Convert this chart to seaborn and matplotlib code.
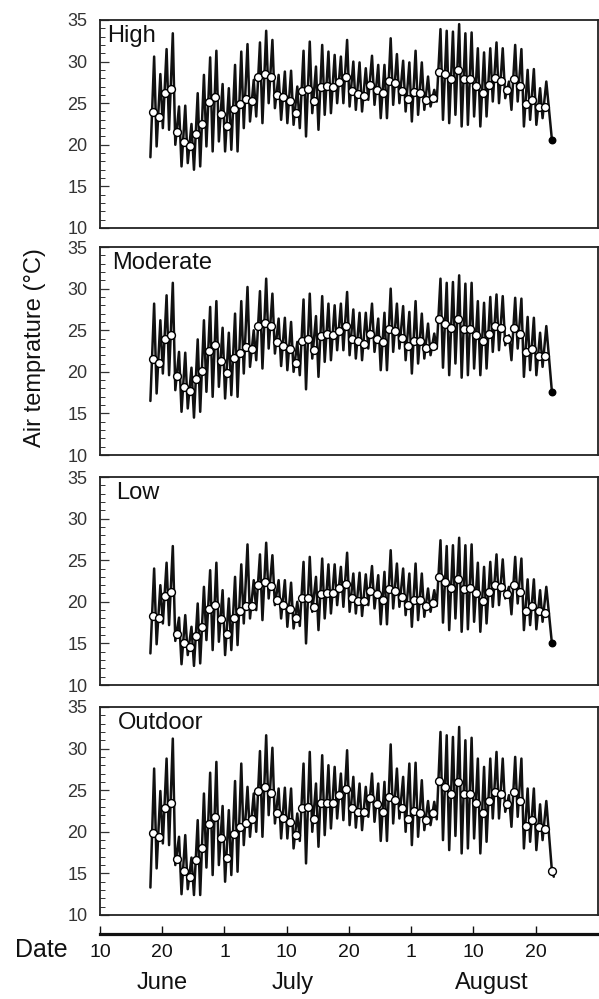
import matplotlib
matplotlib.use("Agg")
import matplotlib.pyplot as plt
import matplotlib.transforms as mtransforms
import numpy as np
import seaborn as sns

# days counted from 10 June; first logged day is 18 June
first_day = 8
end_day = 72.6

high_mean = [23.9, 23.3, 26.2, 26.7, 21.5, 20.3, 19.9, 21.3, 22.5, 25.1,
             25.8, 23.7, 22.2, 24.3, 24.9, 25.5, 25.3, 28.1, 28.5, 28.1,
             26.0, 25.7, 25.3, 23.8, 26.5, 26.7, 25.3, 27.0, 27.1, 26.9,
             27.5, 28.2, 26.5, 26.1, 25.9, 27.2, 26.6, 26.2, 27.7, 27.4,
             26.5, 25.5, 26.3, 26.2, 25.4, 25.6, 28.8, 28.5, 27.9, 29.0,
             27.9, 27.9, 27.1, 26.2, 27.2, 28.0, 27.7, 26.6, 27.9, 27.1,
             24.9, 25.4, 24.5, 24.5]
high_max = [30.6, 28.5, 31.5, 33.4, 24.6, 24.7, 22.5, 26.2, 28.4, 30.5,
            31.3, 27.3, 26.8, 29.6, 31.2, 32.1, 27.8, 32.3, 33.7, 32.6,
            28.4, 28.8, 28.9, 27.0, 31.3, 32.4, 29.4, 32.0, 31.2, 30.8,
            30.6, 32.6, 30.0, 29.9, 29.2, 30.7, 29.6, 29.6, 32.8, 30.9,
            30.1, 29.9, 31.3, 29.9, 28.2, 26.6, 33.9, 33.7, 33.6, 34.5,
            33.4, 33.5, 31.6, 31.1, 31.6, 32.3, 31.6, 27.6, 32.0, 31.5,
            29.0, 29.1, 26.8, 27.6]
high_min = [18.5, 19.8, 22.0, 21.8, 20.0, 17.4, 17.8, 17.0, 17.4, 19.8,
            19.2, 20.4, 19.2, 19.4, 19.2, 22.0, 22.8, 23.4, 22.6, 25.0,
            24.4, 23.0, 22.6, 22.4, 22.0, 21.0, 23.8, 21.8, 23.6, 23.8,
            25.0, 25.0, 24.6, 24.2, 24.0, 25.4, 24.8, 23.2, 23.2, 24.8,
            25.0, 24.0, 22.8, 23.6, 24.2, 24.6, 25.2, 23.0, 22.6, 23.6,
            22.2, 22.4, 23.4, 22.2, 23.4, 25.2, 25.0, 25.6, 24.2, 25.2,
            22.2, 23.0, 22.4, 23.2]
high_end = [20.6]

moderate_mean = [21.5, 21.1, 23.9, 24.4, 19.5, 18.2, 17.7, 19.1, 20.1, 22.5,
                 23.2, 21.3, 19.9, 21.7, 22.3, 23.0, 22.7, 25.5, 25.9, 25.5,
                 23.6, 23.1, 22.7, 21.1, 23.7, 24.0, 22.6, 24.3, 24.5, 24.4,
                 24.9, 25.5, 23.9, 23.7, 23.4, 24.6, 23.9, 23.6, 25.1, 24.9,
                 24.1, 23.1, 23.7, 23.7, 22.9, 23.1, 26.3, 25.8, 25.3, 26.4,
                 25.1, 25.2, 24.4, 23.7, 24.6, 25.5, 25.3, 24.0, 25.3, 24.5,
                 22.4, 22.8, 21.9, 21.9]
moderate_max = [28.2, 26.2, 29.2, 30.7, 22.4, 22.3, 20.5, 23.9, 26.2, 27.8,
                28.5, 25.3, 24.7, 27.0, 28.5, 30.2, 25.0, 29.7, 31.2, 29.4,
                26.4, 26.5, 26.0, 23.6, 28.7, 29.4, 26.7, 29.1, 28.2, 28.0,
                28.2, 29.6, 27.5, 27.1, 27.1, 28.2, 26.4, 27.1, 30.0, 28.2,
                27.9, 27.2, 28.5, 27.0, 25.8, 24.6, 31.2, 30.7, 30.8, 31.6,
                30.6, 30.7, 28.5, 28.3, 29.0, 29.3, 29.1, 24.4, 28.9, 28.8,
                26.6, 26.5, 24.7, 25.5]
moderate_min = [16.5, 17.4, 19.8, 19.6, 17.8, 15.2, 15.6, 14.5, 15.2, 17.6,
                17.0, 18.2, 16.8, 17.2, 17.0, 19.8, 20.6, 21.4, 20.4, 22.8,
                22.2, 20.7, 20.2, 20.0, 19.6, 17.9, 21.6, 19.4, 21.2, 21.4,
                22.6, 22.6, 22.0, 21.6, 21.4, 22.8, 22.4, 20.2, 20.2, 22.4,
                22.8, 21.4, 19.8, 21.0, 21.6, 22.0, 22.8, 20.5, 19.6, 21.0,
                19.3, 19.6, 20.4, 19.6, 20.4, 22.4, 22.6, 23.2, 21.4, 22.8,
                19.4, 20.2, 19.6, 20.6]
moderate_end = [17.6]

low_mean = [18.3, 18.1, 20.7, 21.2, 16.1, 15.1, 14.6, 15.9, 17.0, 19.1,
            19.6, 17.9, 16.1, 18.1, 18.9, 19.5, 19.5, 22.0, 22.4, 21.9,
            20.2, 19.6, 19.1, 18.0, 20.4, 20.5, 19.4, 20.9, 21.0, 21.0,
            21.7, 22.1, 20.5, 20.1, 20.1, 21.3, 20.9, 20.2, 21.5, 21.3,
            20.6, 19.6, 20.2, 20.2, 19.5, 19.9, 23.0, 22.4, 21.7, 22.8,
            21.5, 21.7, 21.1, 20.1, 21.2, 22.0, 21.8, 20.9, 22.0, 21.2,
            18.9, 19.5, 18.9, 18.7]
low_max = [24.0, 22.0, 24.7, 26.7, 18.1, 18.4, 17.0, 19.8, 21.8, 23.8,
           24.7, 21.4, 20.4, 23.0, 24.5, 26.9, 22.6, 25.7, 27.1, 25.6,
           22.6, 22.6, 22.3, 20.0, 24.8, 25.4, 23.0, 25.2, 24.5, 24.5,
           24.2, 25.9, 23.4, 23.5, 23.3, 24.3, 23.2, 23.6, 26.2, 24.6,
           24.0, 23.4, 24.6, 23.4, 21.6, 21.4, 27.4, 26.7, 26.8, 27.7,
           26.8, 26.9, 24.7, 24.2, 24.8, 25.7, 25.1, 21.8, 25.4, 25.2,
           22.7, 22.7, 21.4, 21.8]
low_min = [13.8, 14.9, 17.4, 17.2, 15.3, 12.5, 13.6, 12.3, 12.6, 15.4,
           14.2, 15.2, 13.6, 14.2, 14.8, 17.4, 18.0, 19.0, 17.8, 20.4,
           19.6, 18.0, 17.0, 16.8, 17.1, 15.0, 18.8, 16.6, 18.0, 18.6,
           19.6, 19.4, 18.8, 18.6, 18.3, 19.6, 19.2, 17.3, 17.3, 19.2,
           19.4, 18.4, 17.0, 17.8, 18.2, 18.8, 19.5, 17.5, 16.6, 18.0,
           16.4, 16.7, 17.6, 16.4, 17.4, 19.4, 19.6, 20.4, 18.5, 19.8,
           16.6, 17.2, 16.7, 17.6]
low_end = [15.0]

outdoor_mean = [19.8, 19.4, 22.9, 23.5, 16.7, 15.3, 14.6, 16.6, 18.0, 20.9,
                21.8, 19.3, 16.9, 19.7, 20.6, 21.1, 21.5, 24.9, 25.4, 24.7,
                22.2, 21.7, 21.2, 19.6, 22.8, 23.0, 21.5, 23.5, 23.5, 23.5,
                24.4, 25.1, 22.8, 22.4, 22.4, 24.1, 23.4, 22.4, 24.2, 23.8,
                22.9, 21.5, 22.5, 22.3, 21.4, 22.2, 26.1, 25.4, 24.5, 26.0,
                24.5, 24.6, 23.5, 22.3, 23.7, 24.8, 24.5, 23.4, 24.8, 23.7,
                20.7, 21.4, 20.6, 20.3]
outdoor_max = [27.6, 24.9, 28.8, 31.2, 19.4, 19.6, 16.9, 21.4, 24.6, 27.1,
               28.4, 23.1, 22.6, 26.1, 28.2, 25.4, 24.6, 29.7, 31.6, 30.1,
               25.2, 25.3, 25.2, 22.2, 28.2, 29.6, 25.8, 29.2, 28.0, 27.8,
               27.0, 29.8, 26.6, 25.8, 25.4, 27.0, 25.8, 26.0, 30.5, 27.6,
               26.6, 28.2, 28.3, 26.2, 23.7, 23.6, 32.0, 31.6, 31.4, 32.6,
               31.0, 31.3, 28.8, 27.8, 28.8, 29.6, 28.8, 24.4, 29.0, 28.8,
               25.2, 25.2, 23.3, 23.7]
outdoor_min = [13.3, 15.6, 18.6, 18.4, 16.0, 12.5, 13.1, 12.4, 12.4, 15.7,
               14.8, 16.0, 14.0, 14.8, 15.2, 18.4, 19.4, 20.0, 19.4, 22.0,
               21.0, 19.2, 19.2, 18.0, 18.9, 16.2, 20.0, 18.2, 19.6, 20.4,
               21.6, 21.4, 20.8, 20.5, 20.2, 21.8, 21.2, 18.9, 18.9, 21.0,
               21.6, 20.0, 18.4, 19.4, 20.2, 20.8, 21.5, 19.0, 17.8, 19.5,
               17.4, 18.0, 19.2, 17.4, 18.8, 21.6, 21.6, 22.4, 20.6, 21.8,
               18.0, 18.8, 17.8, 19.0]
outdoor_end = [15.3, 14.6]

panel_names = ["High", "Moderate", "Low", "Outdoor"]
date_ticks = [0, 10, 20, 30, 40, 50, 60, 70]
date_labels = ["10", "20", "1", "10", "20", "1", "10", "20"]
months = ["June", "July", "August"]
month_pos = [10, 31, 63]

panels = [
    (high_mean, high_max, high_min, high_end),
    (moderate_mean, moderate_max, moderate_min, moderate_end),
    (low_mean, low_max, low_min, low_end),
    (outdoor_mean, outdoor_max, outdoor_min, outdoor_end),
]

sns.set_theme(style="white")
plt.rcParams["font.family"] = ["Liberation Sans", "DejaVu Sans"]

fig = plt.figure(figsize=(5.99, 9.99), dpi=100)
left, width, height = 0.1669, 0.8314, 0.2082
bottoms = [0.7718, 0.5445, 0.3143, 0.0841]
label_x = [0.014, 0.024, 0.033, 0.036]

for (mean, tmax, tmin, end), name, b, lx in zip(panels, panel_names, bottoms, label_x):
    ax = fig.add_axes([left, b, width, height])
    days = first_day + np.arange(len(mean))
    t = np.column_stack([days + 0.1, days + 0.7]).ravel()
    v = np.column_stack([tmin, tmax]).ravel()
    t = np.append(t, end_day + 0.3 * np.arange(len(end)))
    v = np.append(v, end)
    sns.lineplot(x=t, y=v, ax=ax, color="#111111", linewidth=1.8,
                 estimator=None, sort=False)
    sns.scatterplot(x=days + 0.45, y=mean, ax=ax, s=32, color="white",
                    edgecolor="black", linewidth=1.0, zorder=3)
    if len(end) > 1:
        sns.scatterplot(x=[end_day], y=end[:1], ax=ax, s=32, color="white",
                        edgecolor="black", linewidth=1.0, zorder=3)
    else:
        sns.scatterplot(x=[end_day], y=end, ax=ax, s=22, color="black",
                        edgecolor="black", linewidth=1.0, zorder=3)

    ax.set_xlim(0, 80)
    ax.set_ylim(10, 35)
    ax.set_xticks([])
    ax.set_yticks(range(10, 36, 5))
    ax.set_yticks(range(10, 36), minor=True)
    ax.tick_params(axis="y", which="major", direction="in", length=6.5,
                   width=0.9, labelsize=13, pad=9, left=True, colors="#333")
    ax.tick_params(axis="y", which="minor", direction="in", length=3.5,
                   width=0.7, left=True, colors="#333")
    ax.set_xlabel("")
    ax.set_ylabel("")
    for s in ax.spines.values():
        s.set_linewidth(1.3)
        s.set_color("#222")
    ax.text(lx, 0.975, name, transform=ax.transAxes, ha="left", va="top",
            fontsize=17, color="#111")

# separate date axis below the panels
dax = fig.add_axes([left, 0.065, width, 0.0001])
dax.set_xlim(0, 80)
dax.set_yticks([])
dax.set_xticks(date_ticks)
dax.set_xticklabels(date_labels)
dax.tick_params(axis="x", direction="in", length=6, width=1.0,
                labelsize=14, pad=7, bottom=True, colors="#111")
for side in ["left", "right", "top"]:
    dax.spines[side].set_visible(False)
dax.spines["bottom"].set_linewidth(2.3)
dax.spines["bottom"].set_color("#111")

trans = mtransforms.blended_transform_factory(dax.transData, fig.transFigure)
for m, p in zip(months, month_pos):
    dax.text(p, 0.016, m, transform=trans, ha="center", va="center",
             fontsize=17, color="#111")

fig.text(0.069, 0.049, "Date", ha="center", va="center", fontsize=18,
         color="#111")
fig.text(0.058, 0.652, "Air temprature (°C)", rotation=90, ha="center",
         va="center", fontsize=17, color="#111")

fig.savefig("out.png", dpi=100)
